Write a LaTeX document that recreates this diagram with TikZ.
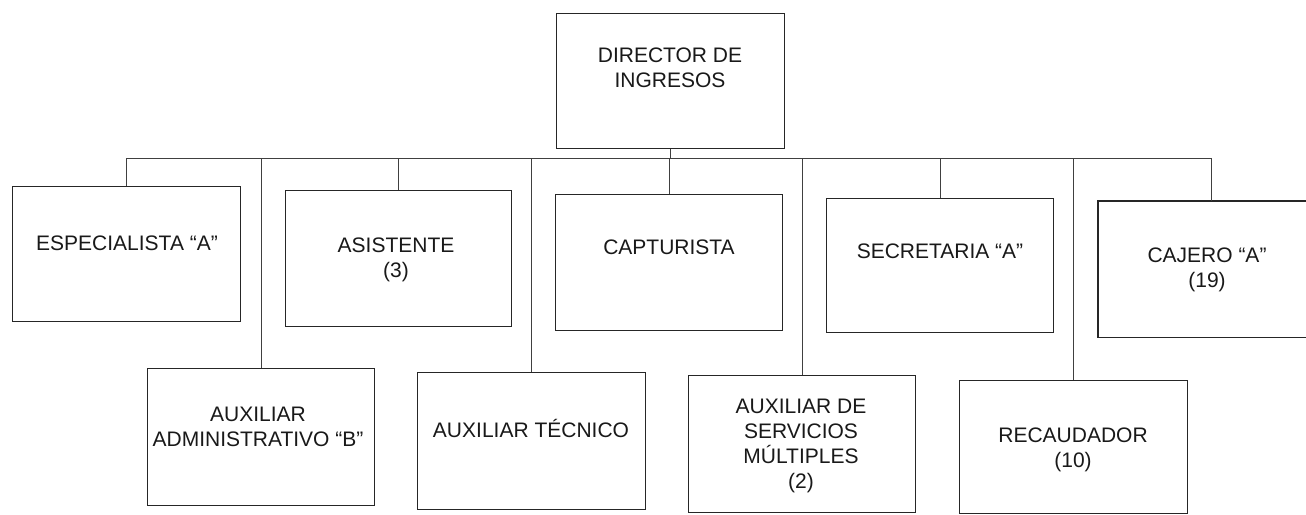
\documentclass[tikz,border=0pt]{standalone}
\usepackage{fontspec}
\setmainfont{Liberation Sans}
\begin{document}
\begin{tikzpicture}[x=1pt,y=-1pt,
  box/.style={draw=black!85, line width=1.2pt, minimum width=228pt, minimum height=135pt, inner sep=0pt, anchor=north west},
  lbl/.style={font=\fontsize{21}{25}\selectfont, align=center, inner sep=0pt, text=black!90},
  link/.style={draw=black!75, line width=0.8pt}]
\useasboundingbox[fill=white] (0,0) rectangle (1306,514);
% boxes
\node[box] (dir) at (556,13) {};
\node[box] (esp) at (12,186) {};
\node[box, minimum width=226pt, minimum height=136pt] (asi) at (285,190) {};
\node[box, minimum width=227pt, minimum height=136pt] (cap) at (555,194) {};
\node[box, minimum width=227pt, minimum height=134pt] (sec) at (826,198) {};
\node[box, draw=none, minimum width=212pt] (caj) at (1098,201) {};
\draw[draw=black!85, line width=1.2pt] (caj.north east) -- (caj.north west) -- (caj.south west) -- (caj.south east);
\node[box, minimum width=227pt, minimum height=137pt] (aadm) at (147,368) {};
\node[box, minimum height=137pt] (atec) at (417,372) {};
\node[box, minimum width=227pt, minimum height=137pt] (aser) at (688,375) {};
\node[box, minimum height=133pt] (rec) at (959,380) {};
% texts
\node[lbl] (tdir) at (670,67.75) {DIRECTOR DE\\INGRESOS};
\node[lbl, anchor=base] (tesp) at (127,250) {ESPECIALISTA “A”};
\node[lbl] (tasi) at (396,259.7) {ASISTENTE\\(3)};
\node[lbl, anchor=base] (tcap) at (669,254) {CAPTURISTA};
\node[lbl, anchor=base] (tsec) at (940,258) {SECRETARIA “A”};
\node[lbl] (tcaj) at (1207,269.7) {CAJERO “A”\\(19)};
\node[lbl] (taadm) at (258,427) {AUXILIAR\\ADMINISTRATIVO “B”};
\node[lbl, anchor=base] (tatec) at (531,437) {AUXILIAR TÉCNICO};
\node[lbl] (taser) at (801,446.2) {AUXILIAR DE\\SERVICIOS\\MÚLTIPLES\\(2)};
\node[lbl] (trec) at (1073,449.7) {RECAUDADOR\\(10)};
% bus
\coordinate (bus) at (0,158);
\coordinate (cajtop) at (1211,201);
\draw[link] (esp.north |- bus) -- (cajtop |- bus);
\draw[link] (dir.south) -- (dir.south |- bus);
\foreach \n in {esp,asi,cap,sec,aadm,atec,aser,rec}{
  \draw[link] (\n.north) -- (\n.north |- bus);
}
\draw[link] (cajtop) -- (cajtop |- bus);
\end{tikzpicture}
\end{document}
